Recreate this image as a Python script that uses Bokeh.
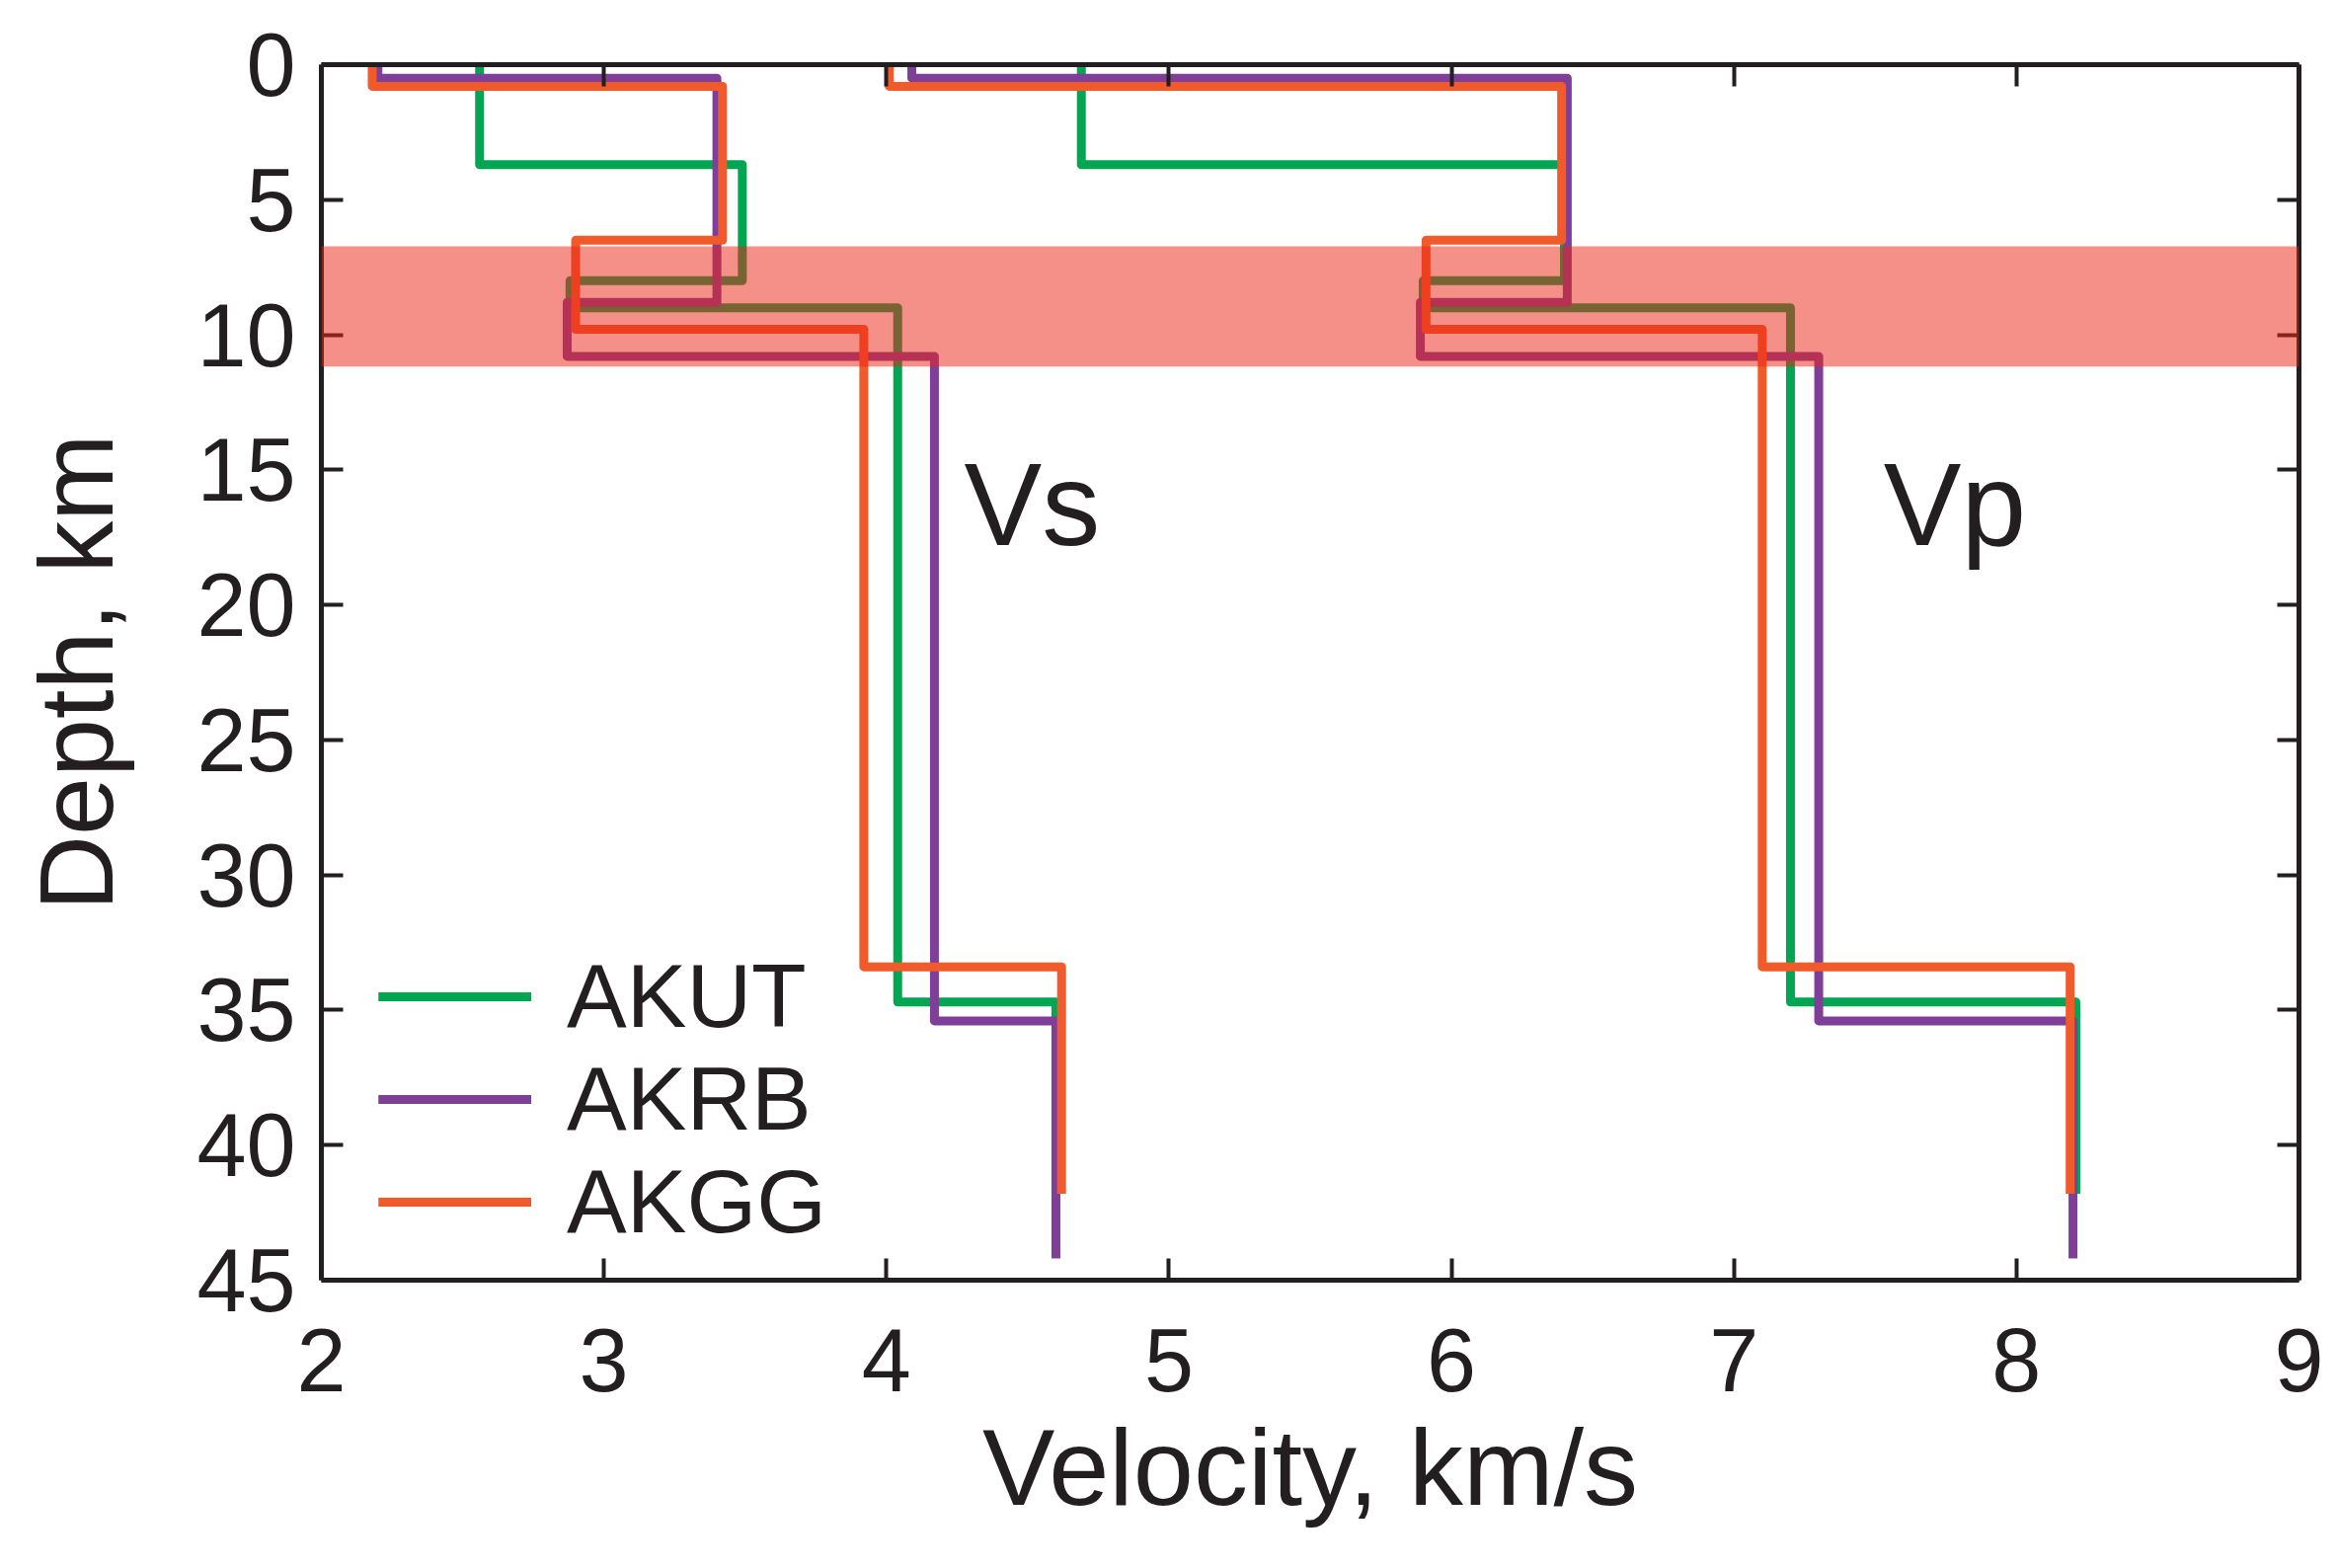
from bokeh.plotting import figure
from bokeh.models import (Range1d, LinearAxis, BoxAnnotation, Legend, LegendItem, FixedTicker,
                          CustomJSTickFormatter)
from bokeh.embed import file_html
from bokeh.resources import INLINE
from bokeh.core.properties import value

# ---------------- data ----------------
stations = ["AKUT", "AKRB", "AKGG"]

akut_depth = [0.0, 3.7, 8.0, 9.0, 34.7, 41.8]   # layer boundaries, km
akut_vs = [2.56, 3.49, 2.88, 4.04, 4.60]        # km/s
akut_vp = [4.69, 6.40, 5.90, 7.20, 8.21]

akrb_depth = [0.0, 0.5, 8.8, 10.8, 35.4, 44.2]
akrb_vs = [2.20, 3.40, 2.87, 4.17, 4.60]
akrb_vp = [4.09, 6.41, 5.89, 7.30, 8.20]

akgg_depth = [0.0, 0.8, 6.5, 9.8, 33.4, 41.8]
akgg_vs = [2.18, 3.42, 2.90, 3.92, 4.62]
akgg_vp = [4.01, 6.39, 5.91, 7.10, 8.19]

band_depth = [6.73, 11.18]   # highlighted depth interval, km

x_ticks = [2, 3, 4, 5, 6, 7, 8, 9]
y_ticks = [0, 5, 10, 15, 20, 25, 30, 35, 40, 45]

wave_labels = ["Vs", "Vp"]
wave_label_x = [4.275, 7.53]
wave_label_depth = [16.3, 16.3]

# ---------------- styling ----------------
INK = "#231F20"
colors = {"AKUT": "#00A651", "AKRB": "#7F3F98", "AKGG": "#F15A2B"}
FONT = "Liberation Sans"


def profile(depths, vels):
    xs, ys = [], []
    for i, v in enumerate(vels):
        xs += [v, v]
        ys += [depths[i], depths[i + 1]]
    return xs, ys


p = figure(width=2368, height=1588, output_backend="svg", toolbar_location=None,
           x_range=Range1d(2, 9), y_range=Range1d(45, 0),
           min_border_left=325, min_border_right=40, min_border_top=65, min_border_bottom=292,
           background_fill_color="white", border_fill_color="white")
p.grid.visible = False
p.outline_line_color = None

series = {
    "AKUT": (akut_depth, akut_vs, akut_vp),
    "AKRB": (akrb_depth, akrb_vs, akrb_vp),
    "AKGG": (akgg_depth, akgg_vs, akgg_vp),
}

items = []
for name in stations:
    d, vs, vp = series[name]
    xs, ys = profile(d, vs)
    r1 = p.line(xs, ys, line_color=colors[name], line_width=9, line_join="round", line_cap="butt")
    xs, ys = profile(d, vp)
    r2 = p.line(xs, ys, line_color=colors[name], line_width=9, line_join="round", line_cap="butt")
    items.append(LegendItem(label=name, renderers=[r1, r2]))

band = BoxAnnotation(top=band_depth[0], bottom=band_depth[1], fill_color="#EB2516",
                     fill_alpha=0.51, line_color=None)
p.add_layout(band)

p.text(x=wave_label_x, y=wave_label_depth, text=wave_labels, text_font=value(FONT),
       text_font_size="118px", text_baseline="alphabetic", text_align="left", text_color=INK)


def style_axis(ax, labels=True):
    ax.axis_line_color = INK
    ax.axis_line_width = 5
    ax.major_tick_line_color = INK
    ax.major_tick_line_width = 4
    ax.major_tick_in = 22
    ax.major_tick_out = 0
    ax.minor_tick_line_color = None
    if labels:
        ax.major_label_text_font = FONT
        ax.major_label_text_font_size = "90px"
        ax.major_label_text_color = INK
    else:
        ax.formatter = CustomJSTickFormatter(code="return ''")
        ax.major_label_standoff = 0


xa = p.xaxis[0]
xa.ticker = FixedTicker(ticks=x_ticks)
style_axis(xa)
xa.major_label_standoff = 49
xa.axis_label = "Velocity, km/s"
xa.axis_label_text_font = FONT
xa.axis_label_text_font_size = "110px"
xa.axis_label_text_font_style = "normal"
xa.axis_label_text_color = INK
xa.axis_label_standoff = 12

ya = p.yaxis[0]
ya.ticker = FixedTicker(ticks=y_ticks)
style_axis(ya)
ya.major_label_standoff = 26
ya.axis_label = "Depth, km"
ya.axis_label_text_font = FONT
ya.axis_label_text_font_size = "106px"
ya.axis_label_text_font_style = "normal"
ya.axis_label_text_color = INK
ya.axis_label_standoff = 60

top = LinearAxis(ticker=FixedTicker(ticks=x_ticks))
style_axis(top, labels=False)
p.add_layout(top, "above")
right = LinearAxis(ticker=FixedTicker(ticks=y_ticks))
style_axis(right, labels=False)
p.add_layout(right, "right")

legend = Legend(items=items, location=(58, 27), orientation="vertical",
                label_text_font=FONT, label_text_font_size="91px", label_text_color=INK,
                glyph_width=155, glyph_height=40, label_height=40, label_standoff=36,
                spacing=0, padding=0, margin=0,
                border_line_color=None, background_fill_alpha=0)
p.add_layout(legend)

open("out.html", "w").write(file_html(p, INLINE))
